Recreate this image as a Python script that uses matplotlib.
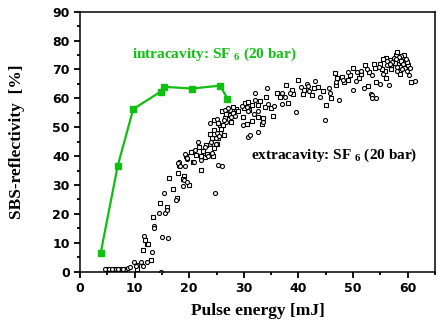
import numpy as np
import matplotlib
matplotlib.use("Agg")
import matplotlib.pyplot as plt
from matplotlib.ticker import MultipleLocator

# ---- data ----
intra_x = [3.8, 6.9, 9.75, 14.75, 15.35, 20.5, 25.65, 27.0]
intra_y = [6.6, 36.6, 56.3, 62.3, 64.0, 63.4, 64.4, 59.9]

ext_squares = np.array([
    (5.0, 1), (6.2, 1), (7.4, 1), (8.3, 1), (10.4, 1.0), (12.3, 9.6), (12.5, 9.6), (13.0, 4.0),
    (11.6, 7.5), (11.9, 11), (13.3, 19), (14.6, 23.7), (16.0, 22.5), (16.3, 32.3), (17.1, 28.5),
    (17.9, 34.3), (19.0, 33), (19.9, 30), (19.4, 40), (20.6, 41.5), (21.2, 40.5), (22.1, 35.2),
    (22.8, 39.7), (24.4, 39.9), (17.7, 25.5), (18.8, 32.2), (20.7, 38.1), (22.2, 39.9), (23.2, 40.8),
    (20.4, 41.3), (21.7, 43.1), (23.0, 43.7), (24.5, 42.8), (24.1, 46.2), (25.3, 46.2), (23.8, 47.5),
    (25.6, 47.9), (26.4, 47.4), (24.5, 49.1), (25.6, 50.8), (26.2, 50.8), (24.5, 52.6), (26.5, 53.1),
    (27.4, 54.1), (28.0, 55.0), (26.0, 55.5), (27.7, 51.9), (28.6, 56.3), (30.2, 58.3), (31.5, 57.6),
    (32.5, 57.8), (29.9, 53.7), (31.5, 52.3), (30.5, 51.2), (32.6, 53.7), (33.5, 53.1), (33.3, 51.0),
    (35.3, 53.9), (34.1, 60.6), (35.0, 56.6), (36.6, 60.6), (37.8, 64.6), (38.1, 58.3), (39.0, 61.5),
    (39.9, 66.4), (41.0, 63.0), (42.4, 61.2), (43.5, 64.0), (44.5, 62.5), (45.1, 57.7), (46.9, 64.6),
    (46.0, 60.0), (46.6, 68.7), (48.0, 67.5), (48.4, 65.8), (49.5, 68.0), (50.0, 70.4), (51.0, 67.0),
    (52.1, 71.5), (53.0, 69.0), (54.0, 70.5), (55.0, 72.0), (55.8, 69.5), (56.7, 73.3), (57.9, 75.0),
    (58.3, 72.0), (59.0, 73.5), (59.5, 70.5), (60.0, 71.5), (57.0, 70.0), (52.8, 64.4), (54.2, 65.5),
    (56.0, 67.0), (58.5, 68.5), (60.6, 65.8), (33.8, 57.1), (30.8, 58.9), (28.0, 57.0), (25.0, 44.3),
    (22.5, 41.8), (56.0, 74.0), (57.5, 73.0), (58.0, 76.0), (58.8, 73.0), (59.3, 75.0), (57.0, 71.5),
    (55.5, 73.5), (25.9, 49.5), (25.2, 51.5), (26.8, 54.5), (29.0, 55.5), (30.0, 56.5), (31.0, 56.0),
    (33.0, 59.0), (36.0, 62.0), (38.8, 63.0), (40.8, 61.5), (42.8, 63.5), (47.0, 67.0), (49.0, 66.5),
    (51.5, 68.5), (53.8, 72.0), (55.3, 70.3), (57.6, 72.3), (58.6, 71.0), (59.8, 72.5),
])
ext_circles = np.array([
    (4.5, 1), (5.4, 1), (5.8, 1), (6.6, 1), (7.0, 1), (7.8, 1), (8.8, 1.2), (9.1, 1.8), (9.9, 3.5),
    (10.4, 2.3), (10.2, 2.0), (11.2, 3.5), (11.5, 2.0), (12.2, 3.5), (13.2, 6.9), (11.8, 12.4),
    (13.6, 15.8), (13.6, 15.0), (14.5, 20.2), (15.0, 11.9), (15.4, 27.1), (15.6, 20.2), (16.0, 21.3),
    (16.1, 11.5), (17.5, 24.8), (18.1, 38.1), (18.2, 36.7), (18.8, 29.8), (19.1, 31.8), (19.5, 31.1),
    (19.3, 36.6), (19.6, 39.0), (20.8, 38.1), (22.2, 38.8), (23.4, 39.9), (24.7, 27.3), (25.3, 36.9),
    (14.8, 0), (17.9, 37.5), (18.3, 36.6), (19.5, 39.4), (24.2, 41.0), (19.3, 40.6), (21.0, 42.1),
    (21.6, 45.0), (23.8, 44.2), (24.9, 44.3), (22.9, 43.3), (25.1, 48.0), (24.9, 46.2), (26.7, 51.9),
    (23.8, 51.4), (25.0, 53.0), (27.4, 56.1), (26.5, 56.0), (27.1, 56.6), (27.7, 53.7), (29.6, 57.4),
    (30.8, 55.6), (32.0, 61.7), (32.5, 55.8), (33.5, 51.9), (29.9, 50.8), (30.8, 46.7), (31.2, 47.3),
    (32.5, 48.3), (32.0, 59.4), (34.3, 63.5), (36.9, 61.7), (38.5, 61.7), (39.6, 55.4), (40.5, 64.0),
    (41.5, 65.0), (42.0, 62.5), (43.0, 66.0), (44.8, 52.5), (45.5, 63.5), (46.8, 65.8), (47.5, 59.6),
    (48.2, 66.5), (49.0, 69.0), (50.0, 62.9), (50.5, 66.0), (51.5, 69.5), (52.0, 63.5), (53.2, 61.5),
    (53.5, 61.1), (53.4, 60.3), (54.2, 60.1), (53.5, 68.0), (54.8, 71.0), (55.5, 68.5), (56.2, 71.5),
    (57.2, 72.5), (57.5, 74.0), (58.0, 71.0), (58.8, 74.5), (59.2, 72.0), (59.8, 69.5), (60.3, 68.0),
    (61.3, 66.0), (56.5, 64.5), (55.0, 65.0), (44.0, 60.5), (37.0, 58.0), (35.5, 57.5), (26.0, 36.5),
    (56.8, 72.0), (58.4, 74.2), (59.6, 73.8), (58.0, 69.5), (24.0, 45.0), (25.5, 47.0), (26.3, 52.5),
    (28.3, 54.0), (30.5, 57.0), (31.8, 54.5), (34.5, 58.0), (37.5, 60.5), (41.8, 64.2), (45.8, 62.0),
    (50.8, 69.0), (52.5, 70.0), (56.3, 73.0), (57.8, 73.6), (59.0, 70.0), (60.5, 70.5),
])

x_ticks = [0, 10, 20, 30, 40, 50, 60]
y_ticks = [0, 10, 20, 30, 40, 50, 60, 70, 80, 90]
label_intra = r'intracavity: SF $_{6}$ (20 bar)'
label_extra = r'extracavity: SF $_{6}$ (20 bar)'

# ---- style ----
plt.rcParams['font.family'] = ['Liberation Serif', 'DejaVu Serif']
plt.rcParams['font.weight'] = 'bold'
plt.rcParams['mathtext.fontset'] = 'custom'
plt.rcParams['mathtext.rm'] = 'Liberation Serif:bold'
plt.rcParams['mathtext.it'] = 'Liberation Serif:bold'
plt.rcParams['mathtext.bf'] = 'Liberation Serif:bold'
plt.rcParams['mathtext.default'] = 'rm'

green = '#10c010'

fig = plt.figure(figsize=(4.38, 3.26), dpi=100)
ax = fig.add_axes([80/438, 1 - 271.7/326, (435-80)/438, (271.7-11.7)/326])

ax.plot(ext_squares[:, 0], ext_squares[:, 1], linestyle='none', marker='s', ms=2.6,
        mfc='white', mec='black', mew=0.8, zorder=2)
ax.plot(ext_circles[:, 0], ext_circles[:, 1], linestyle='none', marker='o', ms=2.9,
        mfc='white', mec='black', mew=0.8, zorder=2)
ax.plot(intra_x, intra_y, color=green, lw=1.6, marker='s', ms=5, mfc=green, mec=green, zorder=3)

ax.set_xlim(0, 65)
ax.set_ylim(0, 90)
ax.set_xticks(x_ticks)
ax.set_yticks(y_ticks)
ax.xaxis.set_minor_locator(MultipleLocator(5))
ax.yaxis.set_minor_locator(MultipleLocator(5))
ax.tick_params(which='major', direction='out', length=4.3, width=1.3, pad=3)
ax.tick_params(which='minor', direction='out', length=2.2, width=1.3)
ax.tick_params(top=False, right=False, which='both')
for lab in ax.get_xticklabels() + ax.get_yticklabels():
    lab.set_fontfamily('DejaVu Sans')
    lab.set_fontweight('bold')
    lab.set_fontsize(9)
for sp in ax.spines.values():
    sp.set_linewidth(1.1)

ax.set_xlabel('Pulse energy [mJ]', fontsize=12.5, fontweight='bold', labelpad=6)
ax.set_ylabel('SBS-reflectivity  [%]', fontsize=12.5, fontweight='bold', labelpad=20)

ax.text(9.5, 73.9, label_intra, color=green, fontsize=11, fontweight='bold', va='baseline')
ax.text(31.4, 38.9, label_extra, color='black', fontsize=11, fontweight='bold', va='baseline')

fig.savefig('out.png', dpi=100)
